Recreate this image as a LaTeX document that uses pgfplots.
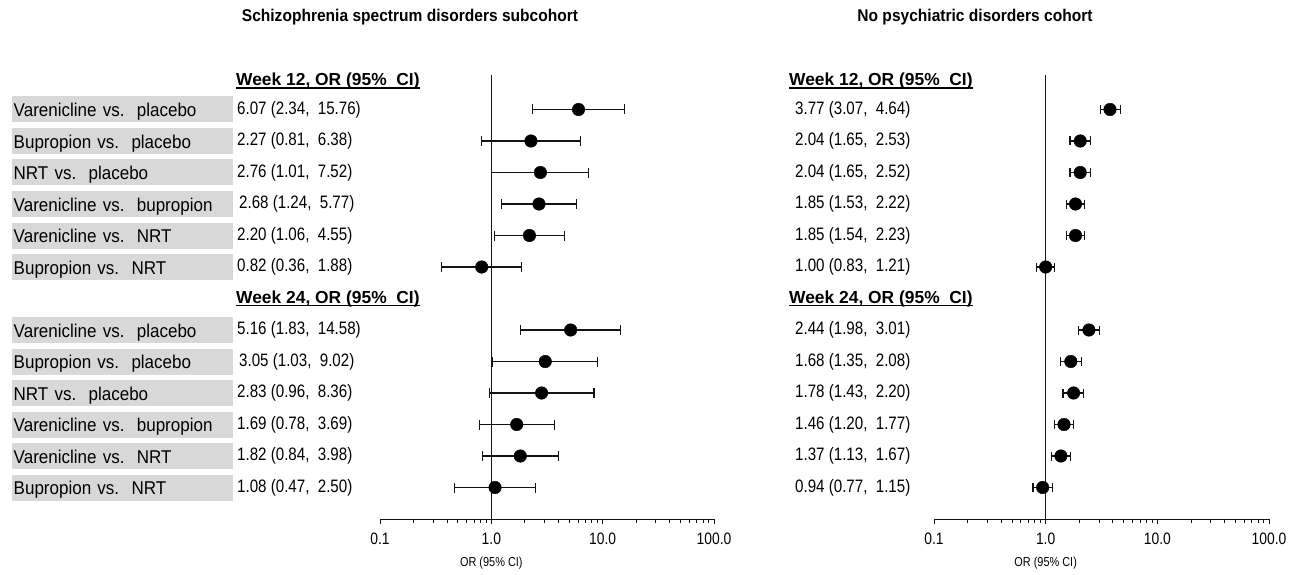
\documentclass[border=0pt]{standalone}
\usepackage{fontspec}
\setmainfont{Liberation Sans}
\newfontfamily\labfont{Liberation Sans}[FakeStretch=0.92]
\newfontfamily\orfont{Liberation Sans}[FakeStretch=0.84]
\newfontfamily\titfont{Liberation Sans}[FakeStretch=0.915]
\usepackage{pgfplots}
\usepackage{pgfplotstable}
\pgfplotsset{compat=1.18}
\definecolor{boxgray}{RGB}{216,216,216}
\definecolor{ink}{RGB}{20,20,20}

\pgfplotstableread{
row est lo hi
1 6.07 2.34 15.76
2 2.27 0.81 6.38
3 2.76 1.01 7.52
4 2.68 1.24 5.77
5 2.20 1.06 4.55
6 0.82 0.36 1.88
8 5.16 1.83 14.58
9 3.05 1.03 9.02
10 2.83 0.96 8.36
11 1.69 0.78 3.69
12 1.82 0.84 3.98
13 1.08 0.47 2.50
}\leftdata

\pgfplotstableread{
row est lo hi
1 3.77 3.07 4.64
2 2.04 1.65 2.53
3 2.04 1.65 2.52
4 1.85 1.53 2.22
5 1.85 1.54 2.23
6 1.00 0.83 1.21
8 2.44 1.98 3.01
9 1.68 1.35 2.08
10 1.78 1.43 2.20
11 1.46 1.20 1.77
12 1.37 1.13 1.67
13 0.94 0.77 1.15
}\rightdata

\newcommand{\ul}[1]{\setbox0\hbox{#1}\rlap{\rule[-3pt]{\wd0}{1.5pt}}\box0}
\newcommand{\lab}[2]{\node[anchor=west, fill=boxgray, inner xsep=1.5pt, inner ysep=5.75pt,
  text height=14.5pt, text depth=0pt, text width=218pt, align=left,
  font=\labfont\fontsize{18.5}{20}\selectfont] at ([xshift=-368pt]axis cs:0.1,#1) {#2};}
\newcommand{\ortxt}[3]{\node[anchor=west, inner sep=0pt, font=\orfont\fontsize{18}{20}\selectfont] at ([xshift=#1]axis cs:0.1,#2) {#3};}
\newcommand{\hdr}[3]{\node[anchor=west, inner sep=0pt, font=\bfseries\fontsize{17.4}{20}\selectfont] at ([xshift=#1]axis cs:0.1,#2) {\ul{#3}};}

\begin{document}
\begin{tikzpicture}
\useasboundingbox (0,0) rectangle (1309pt,574pt);

% titles
\node[font=\titfont\bfseries\fontsize{17}{20}\selectfont] at (410pt,557pt) {Schizophrenia spectrum disorders subcohort};
\node[font=\titfont\bfseries\fontsize{17}{20}\selectfont] at (975pt,557pt) {No psychiatric disorders cohort};

% ---------------- left panel
\begin{axis}[
    at={(380pt,55pt)}, anchor=south west,
    scale only axis, width=334pt, height=444pt,
    xmode=log, xmin=0.1, xmax=100,
    ymin=-0.095, ymax=14.0, y dir=reverse,
    axis x line=bottom, axis y line=none,
    axis line style={-, ink, line width=1pt},
    xtick={0.1,1,10,100}, xticklabels={0.1,1.0,10.0,100.0},
    tick align=outside, major tick length=5pt, minor tick length=3.5pt,
    tick style={ink, line width=0.9pt},
    ticklabel style={font=\orfont\fontsize{16.5}{18}\selectfont, inner sep=1pt},
    xticklabel style={yshift=-8pt},
    clip=false]
\addplot[ink, line width=1.2pt] coordinates {(1,-0.095) (1,14.0)};
\addplot[only marks, mark=*, mark size=6.3pt, mark options={fill=black, draw=black},
    error bars/.cd, x dir=both, x explicit,
    error bar style={ink, line width=1.1pt},
    error mark options={rotate=90, mark size=5pt, line width=1.1pt, ink}]
  table[x=est, y=row,
  x error plus expr=\thisrow{hi}-\thisrow{est},
  x error minus expr=\thisrow{est}-\thisrow{lo}] {\leftdata};
\node[font=\orfont\fontsize{13}{14}\selectfont] at ([yshift=-44pt]axis cs:1,14.0) {OR (95\% CI)};

\hdr{-144pt}{0.1}{Week 12, OR (95\%\ \ CI)}
\lab{1}{Varenicline vs.\ \ placebo}
\lab{2}{Bupropion vs.\ \ placebo}
\lab{3}{NRT vs.\ \ placebo}
\lab{4}{Varenicline vs.\ \ bupropion}
\lab{5}{Varenicline vs.\ \ NRT}
\lab{6}{Bupropion vs.\ \ NRT}
\hdr{-144pt}{7}{Week 24, OR (95\%\ \ CI)}
\lab{8}{Varenicline vs.\ \ placebo}
\lab{9}{Bupropion vs.\ \ placebo}
\lab{10}{NRT vs.\ \ placebo}
\lab{11}{Varenicline vs.\ \ bupropion}
\lab{12}{Varenicline vs.\ \ NRT}
\lab{13}{Bupropion vs.\ \ NRT}

\ortxt{-143pt}{1}{6.07 (2.34,\ \ 15.76)}
\ortxt{-143pt}{2}{2.27 (0.81,\ \ 6.38)}
\ortxt{-143pt}{3}{2.76 (1.01,\ \ 7.52)}
\ortxt{-141pt}{4}{2.68 (1.24,\ \ 5.77)}
\ortxt{-143pt}{5}{2.20 (1.06,\ \ 4.55)}
\ortxt{-143pt}{6}{0.82 (0.36,\ \ 1.88)}
\ortxt{-143pt}{8}{5.16 (1.83,\ \ 14.58)}
\ortxt{-141pt}{9}{3.05 (1.03,\ \ 9.02)}
\ortxt{-143pt}{10}{2.83 (0.96,\ \ 8.36)}
\ortxt{-143pt}{11}{1.69 (0.78,\ \ 3.69)}
\ortxt{-143pt}{12}{1.82 (0.84,\ \ 3.98)}
\ortxt{-143pt}{13}{1.08 (0.47,\ \ 2.50)}
\end{axis}

% ---------------- right panel
\begin{axis}[
    at={(934pt,55pt)}, anchor=south west,
    scale only axis, width=335pt, height=444pt,
    xmode=log, xmin=0.1, xmax=100,
    ymin=-0.095, ymax=14.0, y dir=reverse,
    axis x line=bottom, axis y line=none,
    axis line style={-, ink, line width=1pt},
    xtick={0.1,1,10,100}, xticklabels={0.1,1.0,10.0,100.0},
    tick align=outside, major tick length=5pt, minor tick length=3.5pt,
    tick style={ink, line width=0.9pt},
    ticklabel style={font=\orfont\fontsize{16.5}{18}\selectfont, inner sep=1pt},
    xticklabel style={yshift=-8pt},
    clip=false]
\addplot[ink, line width=1.2pt] coordinates {(1,-0.095) (1,14.0)};
\addplot[only marks, mark=*, mark size=6.3pt, mark options={fill=black, draw=black},
    error bars/.cd, x dir=both, x explicit,
    error bar style={ink, line width=1.1pt},
    error mark options={rotate=90, mark size=4.5pt, line width=1.1pt, ink}]
  table[x=est, y=row,
  x error plus expr=\thisrow{hi}-\thisrow{est},
  x error minus expr=\thisrow{est}-\thisrow{lo}] {\rightdata};
\node[font=\orfont\fontsize{13}{14}\selectfont] at ([yshift=-44pt]axis cs:1,14.0) {OR (95\% CI)};

\hdr{-145pt}{0.1}{Week 12, OR (95\%\ \ CI)}
\hdr{-145pt}{7}{Week 24, OR (95\%\ \ CI)}
\ortxt{-139pt}{1}{3.77 (3.07,\ \ 4.64)}
\ortxt{-139pt}{2}{2.04 (1.65,\ \ 2.53)}
\ortxt{-139pt}{3}{2.04 (1.65,\ \ 2.52)}
\ortxt{-139pt}{4}{1.85 (1.53,\ \ 2.22)}
\ortxt{-139pt}{5}{1.85 (1.54,\ \ 2.23)}
\ortxt{-139pt}{6}{1.00 (0.83,\ \ 1.21)}
\ortxt{-139pt}{8}{2.44 (1.98,\ \ 3.01)}
\ortxt{-139pt}{9}{1.68 (1.35,\ \ 2.08)}
\ortxt{-139pt}{10}{1.78 (1.43,\ \ 2.20)}
\ortxt{-139pt}{11}{1.46 (1.20,\ \ 1.77)}
\ortxt{-139pt}{12}{1.37 (1.13,\ \ 1.67)}
\ortxt{-139pt}{13}{0.94 (0.77,\ \ 1.15)}
\end{axis}
\end{tikzpicture}
\end{document}
